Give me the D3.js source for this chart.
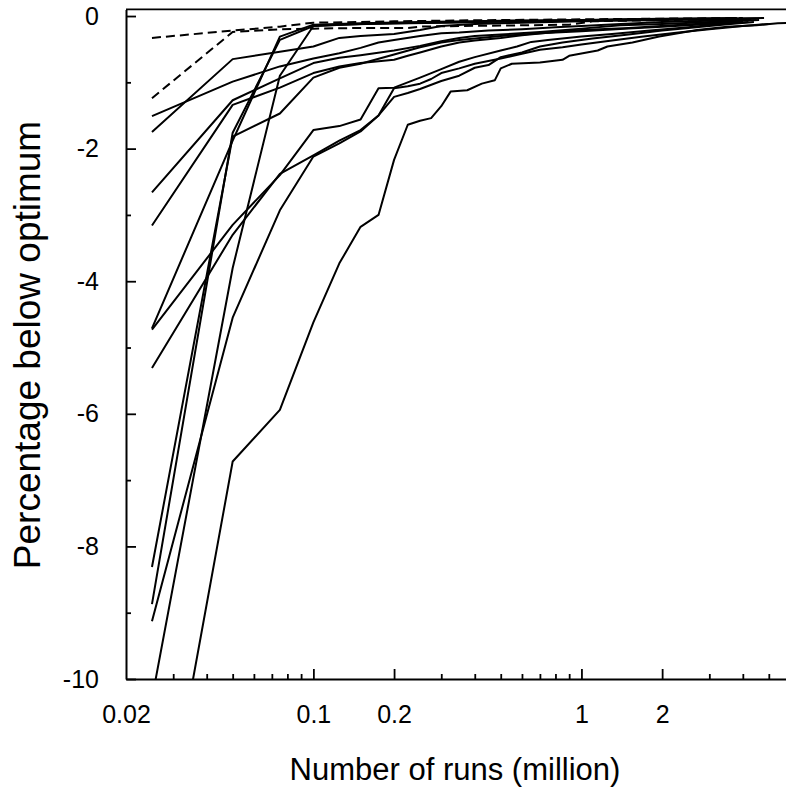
<!DOCTYPE html>
<html>
<head>
<meta charset="utf-8">
<script src="https://cdn.jsdelivr.net/npm/d3@7"></script>
<style>
  html, body { margin: 0; padding: 0; background: #fff; }
  svg { display: block; }
  text { font-family: "Liberation Sans", Arial, Helvetica, sans-serif; fill: #000; }
</style>
</head>
<body>
<div id="chart"></div>
<script>
// Convergence runs: [million runs, percentage below optimum]
const dashed1 = [[0.025,-0.33],[0.05,-0.22],[0.075,-0.16],[0.1,-0.1],[0.15,-0.09],[0.2,-0.08],[0.3,-0.07],[0.5,-0.06],[1,-0.05],[2,-0.04],[4,-0.03]];
const dashed2 = [[0.025,-1.24],[0.05,-0.24],[0.075,-0.2],[0.1,-0.19],[0.15,-0.18],[0.225,-0.18],[0.25,-0.16],[0.35,-0.15],[0.6,-0.14],[0.9,-0.13],[1.1,-0.08],[2,-0.06],[4,-0.05]];

const run1 = [[0.025,-1.51],[0.05,-0.99],[0.075,-0.76],[0.1,-0.64],[0.125,-0.56],[0.15,-0.48],[0.175,-0.4],[0.2,-0.36],[0.25,-0.3],[0.3,-0.26],[0.35,-0.25],[0.45,-0.22],[0.6,-0.2],[0.8,-0.17],[1,-0.15],[1.4,-0.12],[2,-0.09],[3,-0.07],[4.3,-0.05]];
const run2 = [[0.025,-1.75],[0.05,-0.65],[0.075,-0.54],[0.1,-0.46],[0.125,-0.33],[0.15,-0.3],[0.2,-0.27],[0.25,-0.21],[0.3,-0.15],[0.4,-0.12],[0.6,-0.1],[1,-0.08],[2,-0.06],[4,-0.04]];
const run3 = [[0.025,-2.66],[0.05,-1.27],[0.075,-0.94],[0.1,-0.71],[0.125,-0.63],[0.15,-0.59],[0.2,-0.52],[0.25,-0.45],[0.3,-0.38],[0.35,-0.33],[0.4,-0.3],[0.5,-0.28],[0.7,-0.24],[1,-0.19],[1.4,-0.14],[2,-0.12],[3,-0.09],[4.6,-0.06]];
const run4 = [[0.025,-3.16],[0.05,-1.34],[0.075,-1.08],[0.1,-0.86],[0.125,-0.76],[0.15,-0.71],[0.2,-0.66],[0.225,-0.6],[0.25,-0.55],[0.3,-0.46],[0.35,-0.4],[0.4,-0.37],[0.5,-0.33],[0.6,-0.29],[0.8,-0.24],[1,-0.21],[1.5,-0.18],[2.2,-0.14],[3,-0.11],[4,-0.08]];
const run5 = [[0.025,-4.71],[0.05,-1.88],[0.075,-0.31],[0.1,-0.13],[0.15,-0.11],[0.25,-0.09],[0.5,-0.07],[1,-0.06],[2,-0.04],[3.8,-0.03]];
const run6 = [[0.025,-4.73],[0.05,-3.15],[0.075,-2.4],[0.1,-1.72],[0.125,-1.66],[0.15,-1.56],[0.175,-1.09],[0.2,-1.08],[0.25,-0.93],[0.3,-0.8],[0.35,-0.69],[0.4,-0.62],[0.5,-0.52],[0.575,-0.46],[0.65,-0.39],[0.75,-0.36],[1,-0.31],[1.3,-0.27],[1.8,-0.22],[2.5,-0.17],[3.3,-0.12],[4.2,-0.09]];
const run7 = [[0.025,-5.31],[0.05,-3.3],[0.075,-2.38],[0.1,-2.1],[0.125,-1.88],[0.15,-1.72],[0.175,-1.5],[0.2,-1.22],[0.225,-1.16],[0.25,-1.1],[0.3,-0.98],[0.35,-0.9],[0.4,-0.78],[0.45,-0.74],[0.5,-0.62],[0.6,-0.55],[0.7,-0.46],[0.85,-0.4],[1.1,-0.34],[1.5,-0.28],[2,-0.22],[2.8,-0.16],[3.6,-0.12],[4.4,-0.09]];
const run8 = [[0.025,-8.31],[0.05,-1.82],[0.075,-1.47],[0.1,-0.93],[0.125,-0.78],[0.15,-0.72],[0.2,-0.58],[0.25,-0.47],[0.3,-0.4],[0.35,-0.36],[0.5,-0.3],[0.7,-0.26],[1,-0.23],[1.5,-0.19],[2,-0.16],[3,-0.12],[4,-0.08]];
const run9 = [[0.025,-8.87],[0.05,-1.76],[0.075,-0.36],[0.1,-0.15],[0.15,-0.12],[0.3,-0.1],[0.6,-0.08],[1.2,-0.06],[2.5,-0.05],[4.5,-0.04]];
const run10 = [[0.025,-9.13],[0.05,-4.55],[0.075,-2.93],[0.1,-2.12],[0.125,-1.92],[0.15,-1.74],[0.175,-1.5],[0.2,-1.09],[0.225,-1.06],[0.25,-1.02],[0.275,-0.95],[0.3,-0.86],[0.35,-0.79],[0.4,-0.72],[0.5,-0.64],[0.6,-0.57],[0.7,-0.51],[0.85,-0.47],[1,-0.43],[1.3,-0.37],[1.7,-0.31],[2.3,-0.25],[3,-0.2],[4,-0.15],[5,-0.12]];
const run11 = [[0.025,-10.3],[0.05,-3.8],[0.075,-0.9],[0.1,-0.15],[0.125,-0.13],[0.2,-0.11],[0.4,-0.09],[0.8,-0.07],[1.6,-0.05],[3,-0.04],[4.8,-0.03]];
const run12 = [[0.025,-13.4],[0.05,-6.72],[0.075,-5.94],[0.1,-4.62],[0.125,-3.73],[0.15,-3.18],[0.175,-3.0],[0.2,-2.17],[0.225,-1.64],[0.25,-1.58],[0.275,-1.54],[0.3,-1.36],[0.325,-1.14],[0.375,-1.12],[0.425,-1.02],[0.475,-0.97],[0.5,-0.79],[0.55,-0.72],[0.7,-0.7],[0.85,-0.66],[0.9,-0.6],[1.15,-0.52],[1.25,-0.46],[1.55,-0.4],[1.95,-0.31],[2.7,-0.21],[3.5,-0.16],[4.5,-0.14],[5.4,-0.11],[6,-0.1]];

const dashedRuns = [dashed1, dashed2];
const solidRuns = [run1, run2, run3, run4, run5, run6, run7, run8, run9, run10, run11, run12];

// Axis ticks
const xLabelTicks = [0.02, 0.1, 0.2, 1, 2];
const xMajorTicks = [0.1, 0.2, 1, 2];
const xMinorTicks = [0.03, 0.04, 0.05, 0.06, 0.07, 0.08, 0.09, 0.3, 0.4, 0.5, 0.6, 0.7, 0.8, 0.9, 3, 4, 5, 6, 7, 8, 9];
const yMajorTicks = [0, -2, -4, -6, -8, -10];
const yMinorTicks = [-1, -3, -5, -7, -9];

const width = 786, height = 789;
const plotLeft = 126, plotBottom = 679, plotTop = 9.4;

const svg = d3.select('#chart').append('svg')
    .attr('width', width)
    .attr('height', height);

const x = d3.scaleLog().domain([0.02, 10]).range([plotLeft, 849.5]);
const y = d3.scaleLinear().domain([-10, 0.1]).range([plotBottom, plotTop]);

svg.append('defs').append('clipPath').attr('id', 'plot-clip')
    .append('rect')
    .attr('x', plotLeft).attr('y', plotTop)
    .attr('width', x(10) - plotLeft).attr('height', plotBottom - plotTop);

// Lines
const line = d3.line().x(d => x(d[0])).y(d => y(d[1]));
const plot = svg.append('g').attr('clip-path', 'url(#plot-clip)');

plot.selectAll('path.solid')
    .data(solidRuns)
    .join('path')
    .attr('class', 'solid')
    .attr('d', line)
    .attr('fill', 'none')
    .attr('stroke', '#000')
    .attr('stroke-width', 2)
    .attr('stroke-linejoin', 'round');

plot.selectAll('path.dashed')
    .data(dashedRuns)
    .join('path')
    .attr('class', 'dashed')
    .attr('d', line)
    .attr('fill', 'none')
    .attr('stroke', '#000')
    .attr('stroke-width', 2)
    .attr('stroke-dasharray', '9,5');

// Top frame
svg.append('line')
    .attr('x1', plotLeft).attr('x2', x(10))
    .attr('y1', y(0.1)).attr('y2', y(0.1))
    .attr('stroke', '#000').attr('stroke-width', 1.6);

// Axes
const styleAxis = g => {
    g.selectAll('.domain').attr('stroke', '#000').attr('stroke-width', 2);
    g.selectAll('.tick line').attr('stroke', '#000').attr('stroke-width', 1.8);
    g.selectAll('.tick text').style('font-size', '25px').attr('fill', '#000');
};

svg.append('g')
    .attr('transform', `translate(0,${plotBottom})`)
    .call(d3.axisBottom(x).tickValues(xMinorTicks).tickSize(-5).tickSizeOuter(0).tickFormat(''))
    .call(styleAxis);

svg.append('g')
    .attr('transform', `translate(0,${plotBottom})`)
    .call(d3.axisBottom(x).tickValues(xMajorTicks).tickSize(-10).tickSizeOuter(0).tickFormat(''))
    .call(styleAxis)
    .select('.domain').remove();

svg.append('g')
    .attr('transform', `translate(0,${plotBottom})`)
    .call(d3.axisBottom(x).tickValues(xLabelTicks).tickSize(0).tickPadding(26).tickFormat(d => String(d)))
    .call(styleAxis)
    .select('.domain').remove();

svg.append('g')
    .attr('transform', `translate(${plotLeft},0)`)
    .call(d3.axisLeft(y).tickValues(yMinorTicks).tickSize(-5).tickSizeOuter(0).tickFormat(''))
    .call(styleAxis);

svg.append('g')
    .attr('transform', `translate(${plotLeft},0)`)
    .call(d3.axisLeft(y).tickValues(yMajorTicks).tickSize(-10).tickPadding(27).tickFormat(d => String(d)))
    .call(styleAxis)
    .select('.domain').remove();

// Titles
svg.append('text')
    .attr('x', 455).attr('y', 780)
    .attr('text-anchor', 'middle')
    .style('font-size', '31px')
    .text('Number of runs (million)');

svg.append('text')
    .attr('transform', 'translate(40,345) rotate(-90)')
    .attr('text-anchor', 'middle')
    .style('font-size', '37px')
    .text('Percentage below optimum');
</script>
</body>
</html>
